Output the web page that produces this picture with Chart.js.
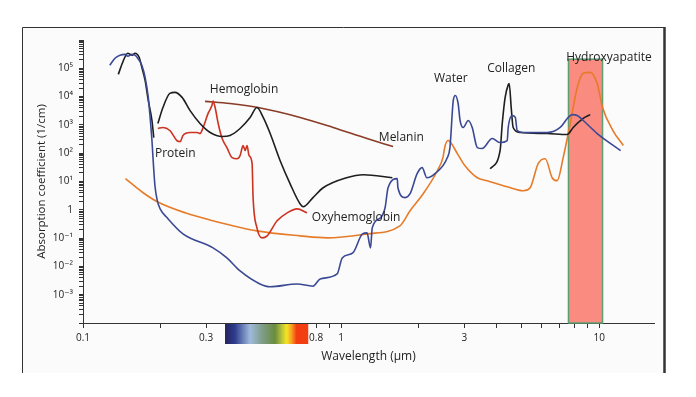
<!DOCTYPE html>
<html>
<head>
<meta charset="utf-8">
<style>
  html, body { margin: 0; padding: 0; background: #fff; }
  canvas { display: block; }
</style>
<script src="https://cdn.jsdelivr.net/npm/chart.js@4.4.1/dist/chart.umd.min.js"></script>
</head>
<body>
<canvas id="chart" width="696" height="397"></canvas>
<script>
// Wavelength in µm, absorption coefficient in 1/cm.
const waterWl = [0.127, 0.133, 0.139, 0.146, 0.149, 0.155, 0.159, 0.163, 0.169, 0.174, 0.179, 0.182, 0.185, 0.187, 0.190, 0.194, 0.199, 0.212, 0.244, 0.319, 0.361, 0.406, 0.485, 0.531, 0.675, 0.778, 0.829, 0.965, 1.01, 1.11, 1.21, 1.26, 1.30, 1.32, 1.42, 1.48, 1.52, 1.65, 1.66, 1.77, 1.85, 1.97, 2.06, 2.15, 2.31, 2.58, 2.64, 2.72, 2.77, 2.84, 2.89, 2.97, 3.11, 3.22, 3.37, 3.52, 3.85, 4.13, 4.40, 4.44, 4.60, 4.73, 4.81, 5.08, 6.29, 7.06, 7.58, 7.86, 8.22, 8.67, 9.82, 12.1];
const waterAbs = [1.28e5, 2.26e5, 2.9e5, 3.1e5, 2.67e5, 3.1e5, 2.9e5, 2.26e5, 1.28e5, 4.8e4, 9.4e3, 1.83e3, 280, 55, 7.1, 2.1, 1.08, 0.52, 0.141, 0.045, 0.0199, 0.0069, 0.0024, 0.0019, 0.0024, 0.0020, 0.0036, 0.0054, 0.0199, 0.030, 0.141, 0.153, 0.045, 0.23, 0.52, 1.18, 6.0, 12.6, 6.0, 2.7, 3.7, 19, 31, 13.6, 19, 70, 158, 7.3e3, 1.1e4, 5.7e3, 1.43e3, 810, 1.43e3, 810, 158, 146, 330, 238, 280, 810, 2.15e3, 1.83e3, 633, 537, 537, 810, 1.83e3, 2.3e3, 2.15e3, 1.43e3, 495, 124];

const proteinWl = [0.137, 0.142, 0.146, 0.149, 0.155, 0.159, 0.165, 0.169, 0.174, 0.179, 0.185, 0.188];
const proteinAbs = [6.1e4, 1.5e5, 2.67e5, 3.4e5, 2.9e5, 3.4e5, 2.45e5, 1.08e5, 3.75e4, 7.3e3, 1.43e3, 357];

const hemoWl = [0.195, 0.204, 0.217, 0.227, 0.242, 0.260, 0.284, 0.311, 0.346, 0.371, 0.406, 0.444, 0.472, 0.499, 0.531, 0.580, 0.634, 0.694, 0.713, 0.778, 0.852, 1.05, 1.22, 1.58];
const hemoAbs = [1.12e3, 4.1e3, 1.3e4, 1.41e4, 9.4e3, 3.2e3, 1.12e3, 537, 388, 421, 745, 1.83e3, 4.1e3, 1.83e3, 495, 55, 8.4, 1.6, 1.28, 2.7, 6.0, 13.6, 17.4, 13.6];

const oxyWl = [0.195, 0.204, 0.217, 0.231, 0.238, 0.244, 0.260, 0.277, 0.284, 0.292, 0.305, 0.316, 0.319, 0.325, 0.334, 0.346, 0.361, 0.378, 0.395, 0.406, 0.417, 0.425, 0.432, 0.440, 0.452, 0.456, 0.472, 0.494, 0.517, 0.565, 0.618, 0.675, 0.738];
const oxyAbs = [745, 810, 633, 280, 258, 421, 537, 537, 495, 810, 2.5e3, 4.9e3, 7.0e3, 4.1e3, 1.12e3, 330, 158, 70, 64, 82, 186, 124, 186, 82, 43, 2.7, 0.23, 0.102, 0.12, 0.41, 0.78, 1.08, 0.78];

const melaninWl = [0.297, 0.371, 0.477, 0.694, 0.931, 1.26, 1.59];
const melaninAbs = [6.8e3, 5.7e3, 4.1e3, 1.83e3, 810, 330, 171];

const orangeWl = [0.146, 0.171, 0.194, 0.249, 0.319, 0.472, 0.694, 0.883, 1.26, 1.69, 1.85, 2.08, 2.36, 2.48, 2.53, 2.60, 2.69, 2.82, 3.02, 3.37, 3.68, 4.40, 5.08, 5.40, 5.80, 6.18, 6.57, 6.87, 7.25, 7.72, 8.22, 8.67, 9.23, 9.82, 10.3, 11.3, 12.4];
const orangeAbs = [12.6, 4.0, 1.92, 0.78, 0.41, 0.18, 0.12, 0.102, 0.141, 0.27, 0.92, 3.7, 24, 70, 186, 280, 202, 97, 36, 13.6, 10.7, 6.5, 4.7, 6.0, 43, 64, 13.6, 10.7, 70, 1.12e3, 2.1e4, 6.65e4, 7.2e4, 2.9e4, 4.1e3, 633, 186];

const collagenWl = [3.78, 4.13, 4.21, 4.32, 4.44, 4.48, 4.56, 4.64, 4.94, 6.29, 7.51, 7.93, 8.67, 9.23];
const collagenAbs = [28, 124, 1.12e3, 9.4e3, 2.6e4, 2.9e4, 4.1e3, 810, 537, 495, 457, 810, 1.69e3, 2.3e3];

// Hydroxyapatite band and visible spectrum strip (wavelength ranges)
const bandWl = [7.6, 10.3];
const bandTopAbs = 2.1e5;
const visibleWl = [0.355, 0.746];

// Curve names, placed at (wavelength, absorption)
const labelTexts = ["Hemoglobin", "Protein", "Melanin", "Oxyhemoglobin", "Water", "Collagen", "Hydroxyapatite"];
const labelWl = [0.31, 0.19, 1.40, 0.77, 2.29, 3.68, 7.45];
const labelAbs = [1.8e4, 97, 357, 0.52, 4.4e4, 1e5, 2.45e5];

// Axis ticks
const xTickValues = [0.1, 0.2, 0.3, 0.4, 0.5, 0.6, 0.7, 0.8, 0.9, 1, 2, 3, 4, 5, 6, 7, 8, 9, 10];
const xTickLabels = ["0.1", "", "0.3", "", "", "", "", "0.8", "", "1", "", "3", "", "", "", "", "", "", "10"];
const yTickPowers = [-3, -2, -1, 0, 1, 2, 3, 4, 5];
const yTickLabels = ["10⁻³", "10⁻²", "10⁻¹", "1", "10¹", "10²", "10³", "10⁴", "10⁵"];

const FONT = "'Open Sans', 'DejaVu Sans', sans-serif";
const INK = "#222";

function zip(xs, ys) {
    return xs.map((x, i) => ({ x, y: ys[i] }));
}

function curve(label, xs, ys, color) {
    return {
        label,
        data: zip(xs, ys),
        borderColor: color,
        borderWidth: 1.6,
        pointRadius: 0,
        fill: false,
        cubicInterpolationMode: "monotone",
    };
}

// Page frame behind the figure
const framePlugin = {
    id: "frame",
    beforeDraw(chart) {
        const { ctx } = chart;
        ctx.save();
        ctx.fillStyle = "#fbfbfb";
        ctx.fillRect(22, 27, 643, 346);
        ctx.strokeStyle = "#333";
        ctx.lineWidth = 1;
        ctx.beginPath();
        ctx.moveTo(22.5, 373);
        ctx.lineTo(22.5, 27.5);
        ctx.lineTo(664.5, 27.5);
        ctx.stroke();
        ctx.lineWidth = 2.5;
        ctx.beginPath();
        ctx.moveTo(664.5, 27);
        ctx.lineTo(664.5, 373);
        ctx.stroke();
        ctx.restore();
    },
};

// Hydroxyapatite band under the curves
const bandPlugin = {
    id: "band",
    beforeDatasetsDraw(chart) {
        const { ctx, scales } = chart;
        const x0 = scales.x.getPixelForValue(bandWl[0]);
        const x1 = scales.x.getPixelForValue(bandWl[1]);
        const top = scales.y.getPixelForValue(bandTopAbs);
        const bottom = chart.chartArea.bottom;
        ctx.save();
        ctx.fillStyle = "#f98b80";
        ctx.fillRect(x0, top, x1 - x0, bottom - top);
        ctx.strokeStyle = "#5f9e72";
        ctx.lineWidth = 1.5;
        ctx.strokeRect(x0, top, x1 - x0, bottom - top);
        ctx.restore();
    },
};

// Visible spectrum strip and curve names on top
const overlayPlugin = {
    id: "overlay",
    afterDraw(chart) {
        const { ctx, scales, chartArea } = chart;
        const x0 = scales.x.getPixelForValue(visibleWl[0]);
        const x1 = scales.x.getPixelForValue(visibleWl[1]);
        const y0 = chartArea.bottom + 1;
        const g = ctx.createLinearGradient(x0, 0, x1, 0);
        g.addColorStop(0, "#23235e");
        g.addColorStop(0.12, "#2e3c8e");
        g.addColorStop(0.3, "#9fbadb");
        g.addColorStop(0.45, "#7e9c86");
        g.addColorStop(0.6, "#6a8c3e");
        g.addColorStop(0.68, "#b8c23a");
        g.addColorStop(0.74, "#f6e424");
        g.addColorStop(0.8, "#f7a020");
        g.addColorStop(0.86, "#f23c12");
        g.addColorStop(1, "#f2400f");
        ctx.save();
        ctx.fillStyle = g;
        ctx.fillRect(x0, y0, x1 - x0, 20);

        ctx.fillStyle = INK;
        ctx.font = "12px " + FONT;
        ctx.textAlign = "left";
        ctx.textBaseline = "middle";
        labelTexts.forEach((t, i) => {
            ctx.fillText(t, scales.x.getPixelForValue(labelWl[i]), scales.y.getPixelForValue(labelAbs[i]));
        });
        ctx.restore();
    },
};

const yTicks = [];
for (let p = -4; p <= 5; p++) {
    for (let m = 1; m <= 9; m++) yTicks.push(m * Math.pow(10, p));
}
yTicks.push(1e6);

new Chart(document.getElementById("chart"), {
    type: "line",
    data: {
        datasets: [
            curve("Water", waterWl, waterAbs, "#3b4994"),
            curve("Protein", proteinWl, proteinAbs, "#1e1e1e"),
            curve("Hemoglobin", hemoWl, hemoAbs, "#1e1e1e"),
            curve("Oxyhemoglobin", oxyWl, oxyAbs, "#cc3320"),
            curve("Melanin", melaninWl, melaninAbs, "#8a3b26"),
            curve("Collagen", collagenWl, collagenAbs, "#1e1e1e"),
            curve("Hydroxyapatite", orangeWl, orangeAbs, "#e67b2a"),
        ],
    },
    options: {
        responsive: false,
        animation: false,
        layout: { padding: { left: 30, top: 40, right: 42, bottom: 29 } },
        plugins: {
            legend: { display: false },
            tooltip: { enabled: false },
        },
        scales: {
            x: {
                type: "logarithmic",
                min: 0.1,
                max: 16.3,
                afterBuildTicks(scale) {
                    scale.ticks = xTickValues.map((v) => ({ value: v }));
                },
                afterFit(scale) {
                    scale.height = 45;
                },
                grid: { drawOnChartArea: false, tickLength: 5, color: "#333" },
                border: { color: "#333", width: 1 },
                ticks: {
                    autoSkip: false,
                    maxRotation: 0,
                    padding: 4,
                    color: INK,
                    font: { family: FONT, size: 10 },
                    callback: (v, i) => xTickLabels[i],
                },
                title: {
                    display: true,
                    text: "Wavelength (µm)",
                    color: INK,
                    font: { family: FONT, size: 12 },
                    padding: { top: 4, bottom: 4 },
                },
            },
            y: {
                type: "logarithmic",
                min: 1e-4,
                max: 1e6,
                afterBuildTicks(scale) {
                    scale.ticks = yTicks.map((v) => ({ value: v }));
                },
                afterFit(scale) {
                    scale.width = 53;
                },
                grid: { drawOnChartArea: false, tickLength: 4, color: "#333" },
                border: { color: "#333", width: 1 },
                ticks: {
                    autoSkip: false,
                    padding: 6,
                    color: INK,
                    font: { family: FONT, size: 10 },
                    callback: (v) => {
                        const p = Math.round(Math.log10(v));
                        if (Math.abs(v - Math.pow(10, p)) > 1e-9 * v) return "";
                        const k = yTickPowers.indexOf(p);
                        return k >= 0 ? yTickLabels[k] : "";
                    },
                },
                title: {
                    display: true,
                    text: "Absorption coefficient (1/cm)",
                    color: INK,
                    font: { family: FONT, size: 11.5 },
                    padding: { top: 5, bottom: 4 },
                },
            },
        },
    },
    plugins: [framePlugin, bandPlugin, overlayPlugin],
});
</script>
</body>
</html>
